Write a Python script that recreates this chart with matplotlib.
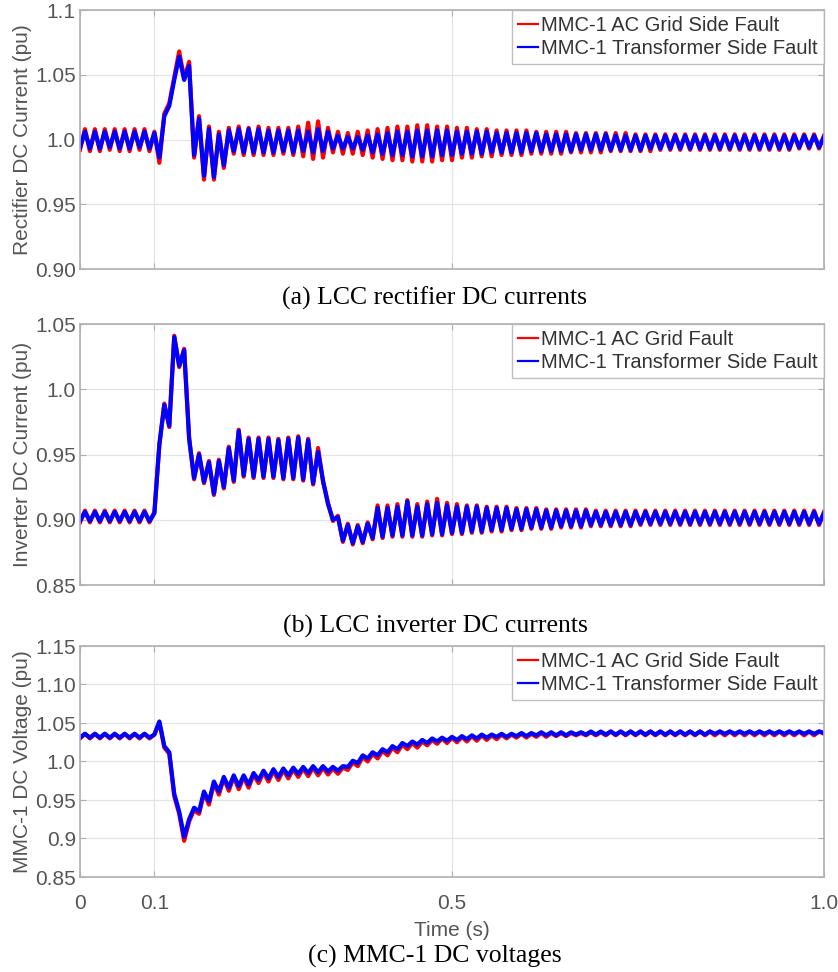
import numpy as np
import matplotlib
matplotlib.use("Agg")
import matplotlib.pyplot as plt

# samples every 1/150 s, 0 .. 1.0 s
t = np.arange(151) / 150.0

rect_grid = [
    0.992, 1.008, 0.991, 1.008, 0.991, 1.008, 0.992, 1.008, 0.991, 1.008, 0.991, 1.008, 0.992, 1.008, 0.991, 1.006,
    0.982, 1.020, 1.028, 1.048, 1.068, 1.047, 1.060, 0.986, 1.018, 0.969, 1.010, 0.969, 1.006, 0.978, 1.009,
    0.989, 1.010, 0.988, 1.009, 0.988, 1.010, 0.988, 1.009, 0.988, 1.009, 0.989, 1.009, 0.988, 1.010, 0.987,
    1.013, 0.985, 1.014, 0.986, 1.009, 0.990, 1.006, 0.989, 1.005, 0.989, 1.006, 0.988, 1.007, 0.986, 1.008,
    0.985, 1.009, 0.984, 1.010, 0.984, 1.010, 0.983, 1.011, 0.983, 1.011, 0.983, 1.010, 0.984, 1.010, 0.984,
    1.009, 0.986, 1.009, 0.986, 1.008, 0.987, 1.008, 0.987, 1.007, 0.988, 1.007, 0.988, 1.007, 0.988, 1.007,
    0.989, 1.006, 0.989, 1.006, 0.989, 1.006, 0.989, 1.006, 0.990, 1.005, 0.990, 1.005, 0.990, 1.005, 0.990,
    1.005, 0.991, 1.005, 0.991, 1.005, 0.991, 1.004, 0.991, 1.004, 0.991, 1.004, 0.992, 1.004, 0.992, 1.004,
    0.992, 1.004, 0.992, 1.004, 0.992, 1.004, 0.992, 1.004, 0.992, 1.004, 0.992, 1.004, 0.992, 1.004, 0.992,
    1.004, 0.992, 1.004, 0.992, 1.004, 0.992, 1.004, 0.992, 1.004, 0.993, 1.004, 0.993, 1.004, 0.993, 1.003,
]
rect_trafo = [
    0.994, 1.006, 0.993, 1.006, 0.993, 1.006, 0.994, 1.006, 0.993, 1.006, 0.993, 1.006, 0.994, 1.006, 0.993, 1.005,
    0.986, 1.018, 1.026, 1.046, 1.064, 1.046, 1.057, 0.988, 1.016, 0.972, 1.008, 0.971, 1.004, 0.980, 1.007,
    0.991, 1.008, 0.990, 1.008, 0.990, 1.008, 0.990, 1.007, 0.990, 1.007, 0.991, 1.007, 0.990, 1.007, 0.991,
    1.006, 0.990, 1.008, 0.991, 1.006, 0.993, 1.003, 0.993, 1.002, 0.993, 1.002, 0.992, 1.003, 0.990, 1.004,
    0.989, 1.005, 0.988, 1.006, 0.988, 1.006, 0.987, 1.007, 0.987, 1.007, 0.987, 1.007, 0.988, 1.007, 0.988,
    1.006, 0.989, 1.006, 0.989, 1.006, 0.989, 1.006, 0.990, 1.005, 0.990, 1.005, 0.990, 1.005, 0.990, 1.005,
    0.991, 1.005, 0.991, 1.004, 0.991, 1.004, 0.991, 1.004, 0.991, 1.004, 0.992, 1.004, 0.992, 1.004, 0.992,
    1.004, 0.992, 1.003, 0.992, 1.003, 0.992, 1.003, 0.992, 1.003, 0.993, 1.003, 0.993, 1.003, 0.993, 1.003,
    0.993, 1.003, 0.993, 1.003, 0.993, 1.003, 0.993, 1.003, 0.993, 1.003, 0.993, 1.003, 0.993, 1.003, 0.993,
    1.003, 0.993, 1.003, 0.993, 1.003, 0.993, 1.003, 0.993, 1.003, 0.994, 1.003, 0.994, 1.003, 0.994, 1.002,
]

inv_grid = [
    0.898, 0.907, 0.898, 0.907, 0.898, 0.907, 0.898, 0.907, 0.898, 0.907, 0.898, 0.907, 0.898, 0.907, 0.898, 0.906,
    0.957, 0.989, 0.971, 1.041, 1.017, 1.031, 0.963, 0.931, 0.951, 0.928, 0.945, 0.919, 0.946, 0.924, 0.956,
    0.929, 0.969, 0.933, 0.963, 0.932, 0.963, 0.932, 0.963, 0.932, 0.962, 0.931, 0.963, 0.931, 0.964, 0.930,
    0.962, 0.927, 0.955, 0.929, 0.913, 0.899, 0.903, 0.883, 0.897, 0.881, 0.896, 0.882, 0.898, 0.885, 0.911,
    0.886, 0.911, 0.887, 0.912, 0.887, 0.915, 0.887, 0.912, 0.887, 0.914, 0.888, 0.916, 0.888, 0.913, 0.889,
    0.912, 0.889, 0.911, 0.890, 0.911, 0.890, 0.910, 0.891, 0.910, 0.891, 0.910, 0.892, 0.909, 0.892, 0.909,
    0.893, 0.909, 0.893, 0.908, 0.893, 0.908, 0.894, 0.908, 0.894, 0.908, 0.894, 0.908, 0.895, 0.907, 0.895,
    0.907, 0.895, 0.907, 0.895, 0.907, 0.895, 0.907, 0.896, 0.907, 0.896, 0.907, 0.896, 0.907, 0.896, 0.907,
    0.896, 0.907, 0.896, 0.907, 0.896, 0.907, 0.896, 0.907, 0.896, 0.907, 0.896, 0.907, 0.896, 0.907, 0.896,
    0.907, 0.896, 0.907, 0.896, 0.907, 0.896, 0.907, 0.896, 0.907, 0.896, 0.907, 0.896, 0.907, 0.896, 0.906,
]
inv_trafo = [
    0.899, 0.906, 0.899, 0.906, 0.899, 0.906, 0.899, 0.906, 0.899, 0.906, 0.899, 0.906, 0.899, 0.906, 0.899, 0.905,
    0.958, 0.988, 0.972, 1.040, 1.018, 1.030, 0.962, 0.932, 0.950, 0.929, 0.944, 0.920, 0.945, 0.925, 0.955,
    0.930, 0.968, 0.934, 0.962, 0.933, 0.962, 0.933, 0.962, 0.933, 0.961, 0.932, 0.962, 0.932, 0.963, 0.931,
    0.961, 0.928, 0.952, 0.930, 0.912, 0.900, 0.902, 0.884, 0.896, 0.882, 0.895, 0.883, 0.897, 0.886, 0.909,
    0.887, 0.909, 0.888, 0.910, 0.888, 0.914, 0.888, 0.910, 0.888, 0.912, 0.889, 0.913, 0.889, 0.911, 0.890,
    0.910, 0.890, 0.910, 0.891, 0.910, 0.891, 0.909, 0.892, 0.909, 0.892, 0.909, 0.893, 0.908, 0.893, 0.908,
    0.894, 0.908, 0.894, 0.907, 0.894, 0.907, 0.895, 0.907, 0.895, 0.907, 0.895, 0.907, 0.896, 0.906, 0.896,
    0.906, 0.896, 0.906, 0.896, 0.906, 0.896, 0.906, 0.897, 0.906, 0.897, 0.906, 0.897, 0.906, 0.897, 0.906,
    0.897, 0.906, 0.897, 0.906, 0.897, 0.906, 0.897, 0.906, 0.897, 0.906, 0.897, 0.906, 0.897, 0.906, 0.897,
    0.906, 0.897, 0.906, 0.897, 0.906, 0.897, 0.906, 0.897, 0.906, 0.897, 0.906, 0.897, 0.906, 0.897, 0.905,
]

vdc_grid = [
    1.030, 1.036, 1.030, 1.036, 1.030, 1.036, 1.030, 1.036, 1.030, 1.036, 1.030, 1.036, 1.030, 1.036, 1.030, 1.035,
    1.051, 1.018, 1.010, 0.955, 0.932, 0.897, 0.922, 0.937, 0.932, 0.959, 0.944, 0.972, 0.957, 0.978, 0.962,
    0.980, 0.964, 0.980, 0.966, 0.983, 0.972, 0.986, 0.974, 0.988, 0.976, 0.989, 0.978, 0.990, 0.980, 0.991,
    0.981, 0.992, 0.982, 0.992, 0.983, 0.991, 0.984, 0.992, 0.989, 0.999, 0.994, 1.006, 1.000, 1.010, 1.004,
    1.014, 1.008, 1.018, 1.012, 1.022, 1.016, 1.024, 1.018, 1.026, 1.021, 1.028, 1.023, 1.030, 1.024, 1.031,
    1.025, 1.032, 1.026, 1.033, 1.027, 1.034, 1.028, 1.034, 1.029, 1.035, 1.030, 1.035, 1.031, 1.036, 1.031,
    1.036, 1.032, 1.037, 1.032, 1.037, 1.033, 1.037, 1.033, 1.037, 1.034, 1.037, 1.034, 1.038, 1.034, 1.038,
    1.034, 1.039, 1.034, 1.039, 1.034, 1.039, 1.034, 1.039, 1.034, 1.039, 1.034, 1.039, 1.034, 1.039, 1.034,
    1.039, 1.034, 1.039, 1.034, 1.039, 1.034, 1.039, 1.034, 1.039, 1.034, 1.039, 1.034, 1.039, 1.034, 1.039,
    1.034, 1.039, 1.034, 1.039, 1.034, 1.039, 1.034, 1.039, 1.034, 1.039, 1.034, 1.039, 1.034, 1.039, 1.036,
]
vdc_trafo = [
    1.031, 1.036, 1.031, 1.036, 1.031, 1.036, 1.031, 1.036, 1.031, 1.036, 1.031, 1.036, 1.031, 1.036, 1.031, 1.035,
    1.052, 1.020, 1.012, 0.958, 0.935, 0.902, 0.925, 0.940, 0.935, 0.961, 0.948, 0.974, 0.961, 0.980, 0.966,
    0.982, 0.968, 0.982, 0.970, 0.985, 0.976, 0.988, 0.978, 0.990, 0.980, 0.991, 0.982, 0.992, 0.984, 0.993,
    0.985, 0.994, 0.986, 0.994, 0.987, 0.993, 0.988, 0.994, 0.993, 1.001, 0.998, 1.008, 1.004, 1.012, 1.008,
    1.016, 1.012, 1.020, 1.016, 1.024, 1.020, 1.026, 1.022, 1.028, 1.024, 1.030, 1.026, 1.031, 1.027, 1.032,
    1.028, 1.033, 1.029, 1.034, 1.030, 1.035, 1.031, 1.035, 1.032, 1.036, 1.032, 1.036, 1.033, 1.037, 1.033,
    1.037, 1.034, 1.038, 1.034, 1.038, 1.034, 1.038, 1.034, 1.038, 1.035, 1.038, 1.035, 1.039, 1.035, 1.039,
    1.035, 1.039, 1.035, 1.039, 1.035, 1.039, 1.035, 1.039, 1.035, 1.039, 1.035, 1.039, 1.035, 1.039, 1.035,
    1.039, 1.035, 1.039, 1.035, 1.039, 1.035, 1.039, 1.036, 1.039, 1.036, 1.039, 1.036, 1.039, 1.036, 1.039,
    1.036, 1.039, 1.036, 1.039, 1.036, 1.039, 1.036, 1.039, 1.036, 1.039, 1.036, 1.039, 1.036, 1.039, 1.037,
]

x_ticks = [0, 0.1, 0.5, 1.0]
x_ticklabels = ["0", "0.1", "0.5", "1.0"]

panels = [
    dict(red=rect_grid, blue=rect_trafo, ylim=(0.90, 1.10),
         yticks=[0.90, 0.95, 1.0, 1.05, 1.1],
         yticklabels=["0.90", "0.95", "1.0", "1.05", "1.1"],
         ylabel="Rectifier DC Current (pu)",
         legend=["MMC-1 AC Grid Side Fault", "MMC-1 Transformer Side Fault"],
         caption="(a) LCC rectifier DC currents"),
    dict(red=inv_grid, blue=inv_trafo, ylim=(0.85, 1.05),
         yticks=[0.85, 0.90, 0.95, 1.0, 1.05],
         yticklabels=["0.85", "0.90", "0.95", "1.0", "1.05"],
         ylabel="Inverter DC Current (pu)",
         legend=["MMC-1 AC Grid Fault", "MMC-1 Transformer Side Fault"],
         caption="(b) LCC inverter DC currents"),
    dict(red=vdc_grid, blue=vdc_trafo, ylim=(0.85, 1.15),
         yticks=[0.85, 0.9, 0.95, 1.0, 1.05, 1.10, 1.15],
         yticklabels=["0.85", "0.9", "0.95", "1.0", "1.05", "1.10", "1.15"],
         ylabel="MMC-1 DC Voltage (pu)",
         legend=["MMC-1 AC Grid Side Fault", "MMC-1 Transformer Side Fault"],
         caption="(c) MMC-1 DC voltages"),
]

W, H = 838, 972
# axes boxes in pixels: left, top, right, bottom
boxes = [(80, 10, 824, 269), (80, 324, 824, 585), (80, 646, 824, 877)]
caption_y = [298, 626, 956]

text_col = "#555555"
edge_col = "#b0b0b0"
sans = "Liberation Sans"
serif = "Liberation Serif"

fig = plt.figure(figsize=(W / 100, H / 100), dpi=100)

for i, (p, box) in enumerate(zip(panels, boxes)):
    l, tp, r, b = box
    ax = fig.add_axes([l / W, 1 - b / H, (r - l) / W, (b - tp) / H])
    ax.plot(t, p["red"], color="#ff0000", lw=3.0, label=p["legend"][0])
    ax.plot(t, p["blue"], color="#0000ff", lw=3.0, label=p["legend"][1])
    ax.set_xlim(0, 1.0)
    ax.set_ylim(*p["ylim"])
    ax.set_xticks(x_ticks)
    ax.set_yticks(p["yticks"])
    ax.set_yticklabels(p["yticklabels"], fontfamily=sans, fontsize=15, color=text_col)
    ax.tick_params(axis="y", pad=3)
    if i == 2:
        ax.set_xticklabels(x_ticklabels, fontfamily=sans, fontsize=15, color=text_col)
        ax.tick_params(axis="x", pad=12)
        ax.set_xlabel("Time (s)", fontfamily=sans, fontsize=15, color=text_col, labelpad=6)
    else:
        ax.set_xticklabels([])
    ax.set_ylabel(p["ylabel"], fontfamily=sans, fontsize=15, color=text_col, labelpad=2)
    ax.grid(True, color="#e4e4e4", lw=0.9)
    ax.set_axisbelow(True)
    ax.tick_params(direction="in", length=4, color=edge_col, top=True, right=True)
    for s in ax.spines.values():
        s.set_color(edge_col)
        s.set_linewidth(1.2)
    leg = ax.legend(loc="upper right", borderaxespad=0, fancybox=False,
                    handlelength=1.0, handletextpad=0.15, borderpad=0.3,
                    labelspacing=0.2, prop={"family": sans, "size": 14.5})
    leg.get_frame().set_edgecolor(edge_col)
    leg.get_frame().set_linewidth(1.0)
    for h in leg.get_lines():
        h.set_linewidth(1.6)
    for txt in leg.get_texts():
        txt.set_color("#333333")
    fig.text(435 / W, 1 - caption_y[i] / H, p["caption"], ha="center", va="center",
             fontfamily=serif, fontsize=18.5, color="black")

fig.savefig("out.png", dpi=100)
